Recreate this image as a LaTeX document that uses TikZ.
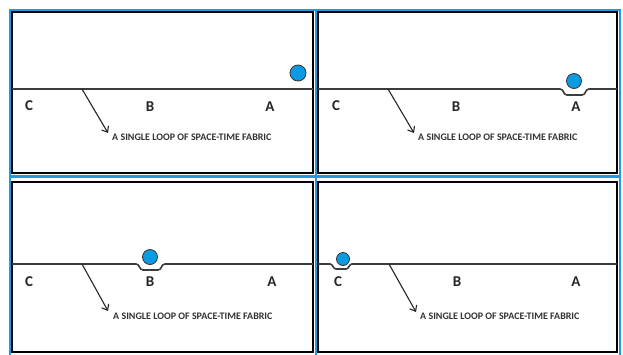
\documentclass[tikz,border=0pt]{standalone}
\usepackage{fontspec}
\setmainfont{Carlito}
\usetikzlibrary{arrows.meta}
\definecolor{ballblue}{HTML}{0B9BE3}
\definecolor{frameblue}{HTML}{1E9BE0}
\definecolor{linegray}{HTML}{3C3C3C}
\begin{document}
\begin{tikzpicture}[x=1pt,y=-1pt,
 frameouter/.style={draw=frameblue,line width=2pt},
 frameinner/.style={draw=black,line width=2pt},
 fabric/.style={draw=linegray,line width=1.6pt},
 letter/.style={font=\fontsize{15}{15}\bfseries\selectfont,text=black!85,inner sep=0pt},
 caption/.style={font=\fontsize{10}{11}\bfseries\selectfont,inner sep=0pt,anchor=west,text=black!80},
 ball/.style={circle,fill=ballblue,draw=black!80,line width=0.8pt,inner sep=0pt,minimum size=15pt},
 pointer/.style={draw=black!85,line width=1.1pt,-{Straight Barb[length=5pt,width=8pt]}}
]
\useasboundingbox (0,0) rectangle (623,354);
\fill[white] (0,0) rectangle (623,354);
% frames
\draw[frameouter] (10,10) rectangle (316,176);
\draw[frameinner] (12,12) rectangle (313,173);
\draw[frameouter] (316,10) rectangle (620,176);
\draw[frameinner] (318,12) rectangle (617,173);
\draw[frameouter] (10,177) rectangle (316,358);
\draw[frameinner] (12,182) rectangle (313,352);
\draw[frameouter] (316,177) rectangle (620,358);
\draw[frameinner] (318,182) rectangle (617,352);

% ---------- panel 1 ----------
\draw[fabric] (12,89) -- (313,89);
\node[letter] (c1) at (29,106) {C};
\node[letter] (b1) at (150,107) {B};
\node[letter] (a1) at (270,107) {A};
\node[ball,minimum size=16pt] (ball1) at (298,73) {};
\coordinate (s1) at (82,89);
\node[caption] (cap1) at (112,137) {A SINGLE LOOP OF SPACE-TIME FABRIC};
\coordinate (t1) at (108,133);
\draw[pointer] (s1) -- (t1);

% ---------- panel 2 ----------
\draw[fabric] (318,89) -- (560,89) .. controls +(4,0) and +(-4,0) .. ++(7,6) -- ++(15,0) .. controls +(4,0) and +(-4,0) .. ++(7,-6) -- (617,89);
\node[letter] (c2) at (336,106) {C};
\node[letter] (b2) at (456,107) {B};
\node[letter] (a2) at (576,107) {A};
\node[ball] (ball2) at (574,81) {};
\coordinate (s2) at (388,89);
\node[caption] (cap2) at (418,137) {A SINGLE LOOP OF SPACE-TIME FABRIC};
\coordinate (t2) at (414,133);
\draw[pointer] (s2) -- (t2);

% ---------- panel 3 ----------
\draw[fabric] (12,264) -- (136,264) .. controls +(4,0) and +(-4,0) .. ++(7,6) -- ++(15,0) .. controls +(4,0) and +(-4,0) .. ++(7,-6) -- (313,264);
\node[letter] (c3) at (29,282) {C};
\node[letter] (b3) at (150,282) {B};
\node[letter] (a3) at (272,282) {A};
\node[ball] (ball3) at (150,257) {};
\coordinate (s3) at (82,264);
\node[caption] (cap3) at (113,316) {A SINGLE LOOP OF SPACE-TIME FABRIC};
\coordinate (t3) at (108,311);
\draw[pointer] (s3) -- (t3);

% ---------- panel 4 ----------
\draw[fabric] (318,264) -- (330,264) .. controls +(3,0) and +(-3,0) .. ++(6,5) -- ++(10,0) .. controls +(3,0) and +(-3,0) .. ++(6,-5) -- (617,264);
\node[letter] (c4) at (338,282) {C};
\node[letter] (b4) at (457,282) {B};
\node[letter] (a4) at (576,282) {A};
\node[ball,minimum size=13pt] (ball4) at (343,259) {};
\coordinate (s4) at (389,264);
\node[caption] (cap4) at (420,316) {A SINGLE LOOP OF SPACE-TIME FABRIC};
\coordinate (t4) at (416,312);
\draw[pointer] (s4) -- (t4);
\end{tikzpicture}
\end{document}
